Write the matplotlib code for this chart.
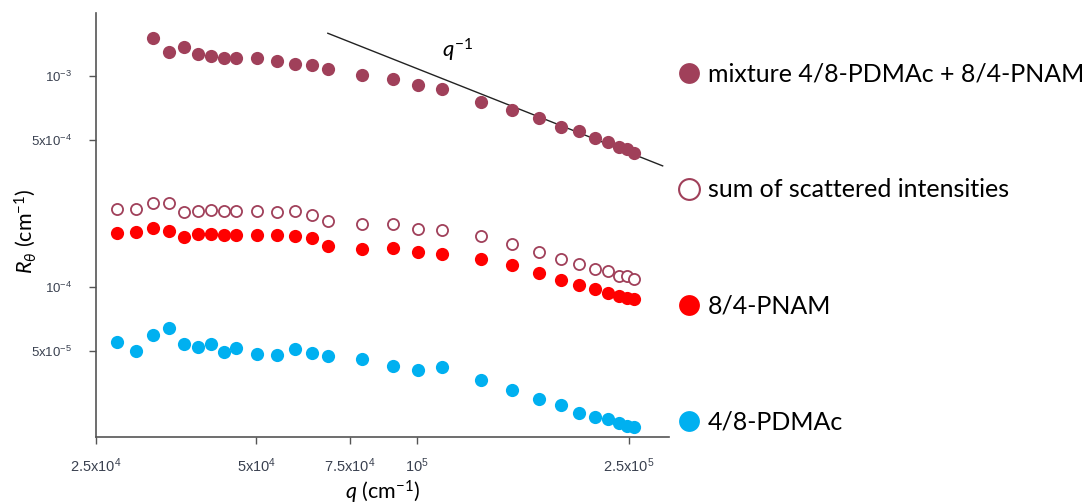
import matplotlib
matplotlib.use('Agg')
import matplotlib.pyplot as plt
from matplotlib.lines import Line2D

# fonts: Calibri-like text, Arial-like tick labels
plt.rcParams['font.family'] = ['Lato', 'DejaVu Sans']
plt.rcParams['mathtext.fontset'] = 'custom'
plt.rcParams['mathtext.it'] = 'Lato:italic'
plt.rcParams['mathtext.rm'] = 'Lato'
plt.rcParams['mathtext.default'] = 'regular'
plt.rcParams['mathtext.fallback'] = 'stixsans'

# scattering vector q (cm^-1), same for every series
q = [2.744e4, 2.971e4, 3.202e4, 3.435e4, 3.660e4, 3.894e4, 4.113e4, 4.344e4,
     4.581e4, 5.017e4, 5.463e4, 5.918e4, 6.370e4, 6.826e4, 7.895e4, 9.012e4,
     1.0066e5, 1.1163e5, 1.3195e5, 1.509e5, 1.696e5, 1.864e5, 2.017e5,
     2.154e5, 2.283e5, 2.394e5, 2.476e5, 2.549e5]

# mixture starts at the third q value
R_mix = [1.525e-3, 1.295e-3, 1.371e-3, 1.267e-3, 1.248e-3, 1.226e-3, 1.213e-3,
         1.213e-3, 1.178e-3, 1.140e-3, 1.124e-3, 1.087e-3, 1.014e-3, 0.971e-3,
         0.913e-3, 0.868e-3, 0.753e-3, 0.688e-3, 0.631e-3, 0.574e-3, 0.549e-3,
         0.507e-3, 0.486e-3, 0.463e-3, 0.450e-3, 0.434e-3]

R_sum = [2.355e-4, 2.355e-4, 2.514e-4, 2.506e-4, 2.264e-4, 2.304e-4, 2.322e-4,
         2.289e-4, 2.304e-4, 2.289e-4, 2.272e-4, 2.289e-4, 2.206e-4, 2.066e-4,
         1.987e-4, 1.987e-4, 1.881e-4, 1.867e-4, 1.749e-4, 1.603e-4, 1.469e-4,
         1.366e-4, 1.285e-4, 1.217e-4, 1.199e-4, 1.135e-4, 1.135e-4, 1.095e-4]

R_pnam = [1.801e-4, 1.833e-4, 1.902e-4, 1.841e-4, 1.724e-4, 1.781e-4, 1.787e-4,
          1.773e-4, 1.773e-4, 1.768e-4, 1.768e-4, 1.754e-4, 1.717e-4, 1.574e-4,
          1.523e-4, 1.540e-4, 1.474e-4, 1.442e-4, 1.366e-4, 1.275e-4, 1.172e-4,
          1.086e-4, 1.025e-4, 0.978e-4, 0.943e-4, 0.913e-4, 0.893e-4, 0.877e-4]

R_pdmac = [5.490e-5, 5.012e-5, 5.927e-5, 6.439e-5, 5.371e-5, 5.200e-5, 5.390e-5,
           4.941e-5, 5.144e-5, 4.850e-5, 4.782e-5, 5.105e-5, 4.887e-5, 4.730e-5,
           4.562e-5, 4.241e-5, 4.047e-5, 4.181e-5, 3.653e-5, 3.266e-5, 2.951e-5,
           2.782e-5, 2.533e-5, 2.441e-5, 2.380e-5, 2.272e-5, 2.213e-5, 2.189e-5]

# q^-1 guide line end points
q_fit = [6.81e4, 2.89e5]
R_fit = [1.597e-3, 3.76e-4]

xticks = [2.5e4, 5e4, 7.5e4, 1e5, 2.5e5]
xticklabels = [r'$2.5x10^{4}$', r'$5x10^{4}$', r'$7.5x10^{4}$', r'$10^{5}$', r'$2.5x10^{5}$']
yticks = [5e-5, 1e-4, 5e-4, 1e-3]
yticklabels = [r'$5x10^{-5}$', r'$10^{-4}$', r'$5x10^{-4}$', r'$10^{-3}$']

labels = ['mixture 4/8-PDMAc + 8/4-PNAM', 'sum of scattered intensities',
          '8/4-PNAM', '4/8-PDMAc']

c_mix = '#a0405a'
c_red = '#ff0000'
c_blue = '#00b0f0'

fig = plt.figure(figsize=(10.89, 5.04), dpi=100)
ax = fig.add_axes([0.0879, 0.1335, 0.5264, 0.8405])

ax.plot(q_fit, R_fit, color='#222222', lw=1.0)
ax.plot(q[2:], R_mix, 'o', color=c_mix, ms=9.5, mec='none')
ax.plot(q, R_sum, 'o', mfc='white', mec=c_mix, mew=1.3, ms=8)
ax.plot(q, R_pnam, 'o', color=c_red, ms=9.5, mec='none')
ax.plot(q, R_pdmac, 'o', color=c_blue, ms=9.5, mec='none')

ax.set_xscale('log')
ax.set_yscale('log')
ax.set_xlim(2.5e4, 2.97e5)
ax.set_ylim(1.96e-5, 1.99e-3)

ax.set_xticks(xticks)
ax.set_xticklabels(xticklabels)
ax.set_yticks(yticks)
ax.set_yticklabels(yticklabels)
ax.minorticks_off()
ax.tick_params(axis='both', length=5, width=1, color='#555555', labelcolor='#3a4150')
ax.tick_params(axis='x', pad=9, labelsize=10.5)
ax.tick_params(axis='y', pad=12, labelsize=9.5)
for t in ax.get_xticklabels() + ax.get_yticklabels():
    t.set_fontfamily('Liberation Sans')

for s in ['top', 'right']:
    ax.spines[s].set_visible(False)
for s in ['left', 'bottom']:
    ax.spines[s].set_color('#555555')
    ax.spines[s].set_linewidth(1.2)

ax.set_xlabel(r'$\mathit{q}$ (cm$^{-1}$)', fontsize=15.5, va='center')
ax.set_ylabel(r'$\mathit{R_{\theta}}$ (cm$^{-1}$)', fontsize=15.5, va='center')
ax.xaxis.set_label_coords(0.5, -0.131)
ax.yaxis.set_label_coords(-0.123, 0.4855)

ax.text(1.19e5, 1.33e-3, r'$\mathit{q}^{-1}$', fontsize=16, ha='center', va='center')

handles = [
    Line2D([], [], ls='none', marker='o', ms=15, color=c_mix, mec='none'),
    Line2D([], [], ls='none', marker='o', ms=15, mfc='white', mec=c_mix, mew=1.5),
    Line2D([], [], ls='none', marker='o', ms=15, color=c_red, mec='none'),
    Line2D([], [], ls='none', marker='o', ms=15, color=c_blue, mec='none'),
]
fig.legend(handles, labels, loc='upper left', bbox_to_anchor=(0.6107, 0.901),
           frameon=False, fontsize=18, handlelength=0.9, handletextpad=0.3,
           labelspacing=3.72, borderpad=0)

fig.savefig('out.png', dpi=100)
